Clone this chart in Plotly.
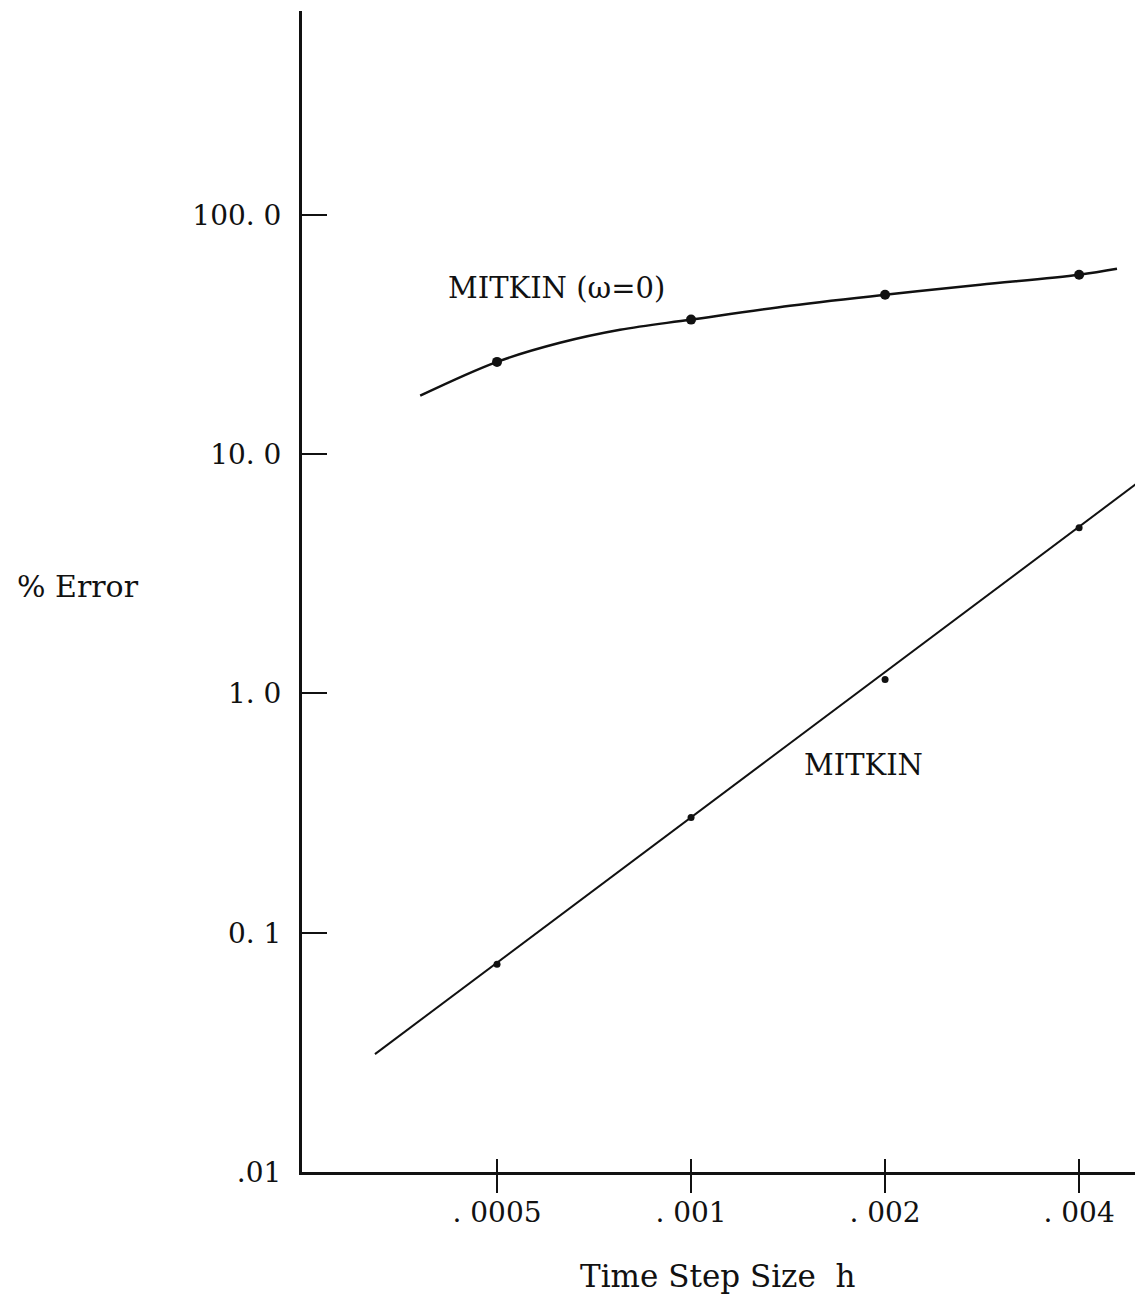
import plotly.graph_objects as go

# Data
h_pts = [0.0005, 0.001, 0.002, 0.004]
err_w0_pts = [24.3, 36.5, 46.4, 56.2]
err_mitkin_pts = [0.0739, 0.303, 1.144, 4.93]

# Hand-drawn curve through MITKIN (omega=0) points
h_curve_w0 = [0.00038, 0.0005, 0.000626, 0.000776, 0.001, 0.001424,
              0.002, 0.002809, 0.004, 0.00458]
err_curve_w0 = [17.55, 24.3, 29.2, 33.1, 36.5, 41.7, 46.4, 51.0, 56.2, 59.5]

# Straight fitted line for MITKIN
h_line_mitkin = [0.0003233, 0.00503]
err_line_mitkin = [0.0311, 7.90]

x_tickvals = [0.0005, 0.001, 0.002, 0.004]
x_ticktext = [". 0005", ". 001", ". 002", ". 004"]
y_tickvals = [0.01, 0.1, 1.0, 10.0, 100.0]
y_ticktext = [".01", "0. 1", "1. 0", "10. 0", "100. 0"]

FONT = "DejaVu Serif"
BLACK = "#111111"

fig = go.Figure()
fig.add_trace(go.Scatter(x=h_curve_w0, y=err_curve_w0, mode="lines",
                         line=dict(color=BLACK, width=2.5, shape="spline", smoothing=1.0),
                         showlegend=False, hoverinfo="skip"))
fig.add_trace(go.Scatter(x=h_pts, y=err_w0_pts, mode="markers", xaxis="x2",
                         marker=dict(color=BLACK, size=10), showlegend=False))
fig.add_trace(go.Scatter(x=h_line_mitkin, y=err_line_mitkin, mode="lines", xaxis="x3",
                         line=dict(color=BLACK, width=2), showlegend=False, hoverinfo="skip"))
fig.add_trace(go.Scatter(x=h_pts, y=err_mitkin_pts, mode="markers", xaxis="x3",
                         marker=dict(color=BLACK, size=7), showlegend=False))

xr = [-3.6036, -2.2988]
yr = [-2.0, 2.852]

fig.update_layout(
    width=1135, height=1287,
    margin=dict(l=294, r=0, t=3, b=123),
    plot_bgcolor="white", paper_bgcolor="white",
    font=dict(family=FONT, size=28, color=BLACK),
    # main x axis: short outside ticks that set the label position
    xaxis=dict(type="log", range=xr, tickvals=x_tickvals, ticktext=x_ticktext,
               ticks="outside", ticklen=11, tickwidth=2, tickcolor=BLACK,
               showline=True, linewidth=3, linecolor=BLACK,
               showgrid=False, zeroline=False, ticklabelstandoff=2,
               tickfont=dict(family=FONT, size=28, color=BLACK)),
    # full-length outside tick marks
    xaxis2=dict(type="log", range=xr, overlaying="x", anchor="y", side="bottom",
                tickvals=x_tickvals, showticklabels=False,
                ticks="outside", ticklen=20, tickwidth=2, tickcolor=BLACK,
                showline=False, showgrid=False, zeroline=False),
    # inside part of the crossing tick marks
    xaxis3=dict(type="log", range=xr, overlaying="x", anchor="y", side="bottom",
                tickvals=x_tickvals, showticklabels=False,
                ticks="inside", ticklen=13, tickwidth=2, tickcolor=BLACK,
                showline=False, showgrid=False, zeroline=False),
    yaxis=dict(type="log", range=yr, tickvals=y_tickvals, ticktext=y_ticktext,
               ticks="inside", ticklen=25, tickwidth=2, tickcolor=BLACK,
               showline=True, linewidth=3, linecolor=BLACK,
               showgrid=False, zeroline=False, ticklabelstandoff=12,
               tickfont=dict(family=FONT, size=28, color=BLACK)),
    annotations=[
        dict(text="MITKIN (\u03c9=0)", x=-3.208, y=1.695, xref="x", yref="y",
             showarrow=False, font=dict(family=FONT, size=29, color=BLACK)),
        dict(text="MITKIN", x=-2.733, y=-0.297, xref="x", yref="y",
             showarrow=False, font=dict(family=FONT, size=29, color=BLACK)),
        dict(text="% Error", x=-0.2663, y=0.504, xref="paper", yref="paper",
             xanchor="center", yanchor="middle",
             showarrow=False, font=dict(family=FONT, size=30, color=BLACK)),
        dict(text="Time Step Size  h", x=0.4946, y=-0.0896, xref="paper", yref="paper",
             xanchor="center", yanchor="middle",
             showarrow=False, font=dict(family=FONT, size=31, color=BLACK)),
    ],
)

fig.write_html("out.html")
